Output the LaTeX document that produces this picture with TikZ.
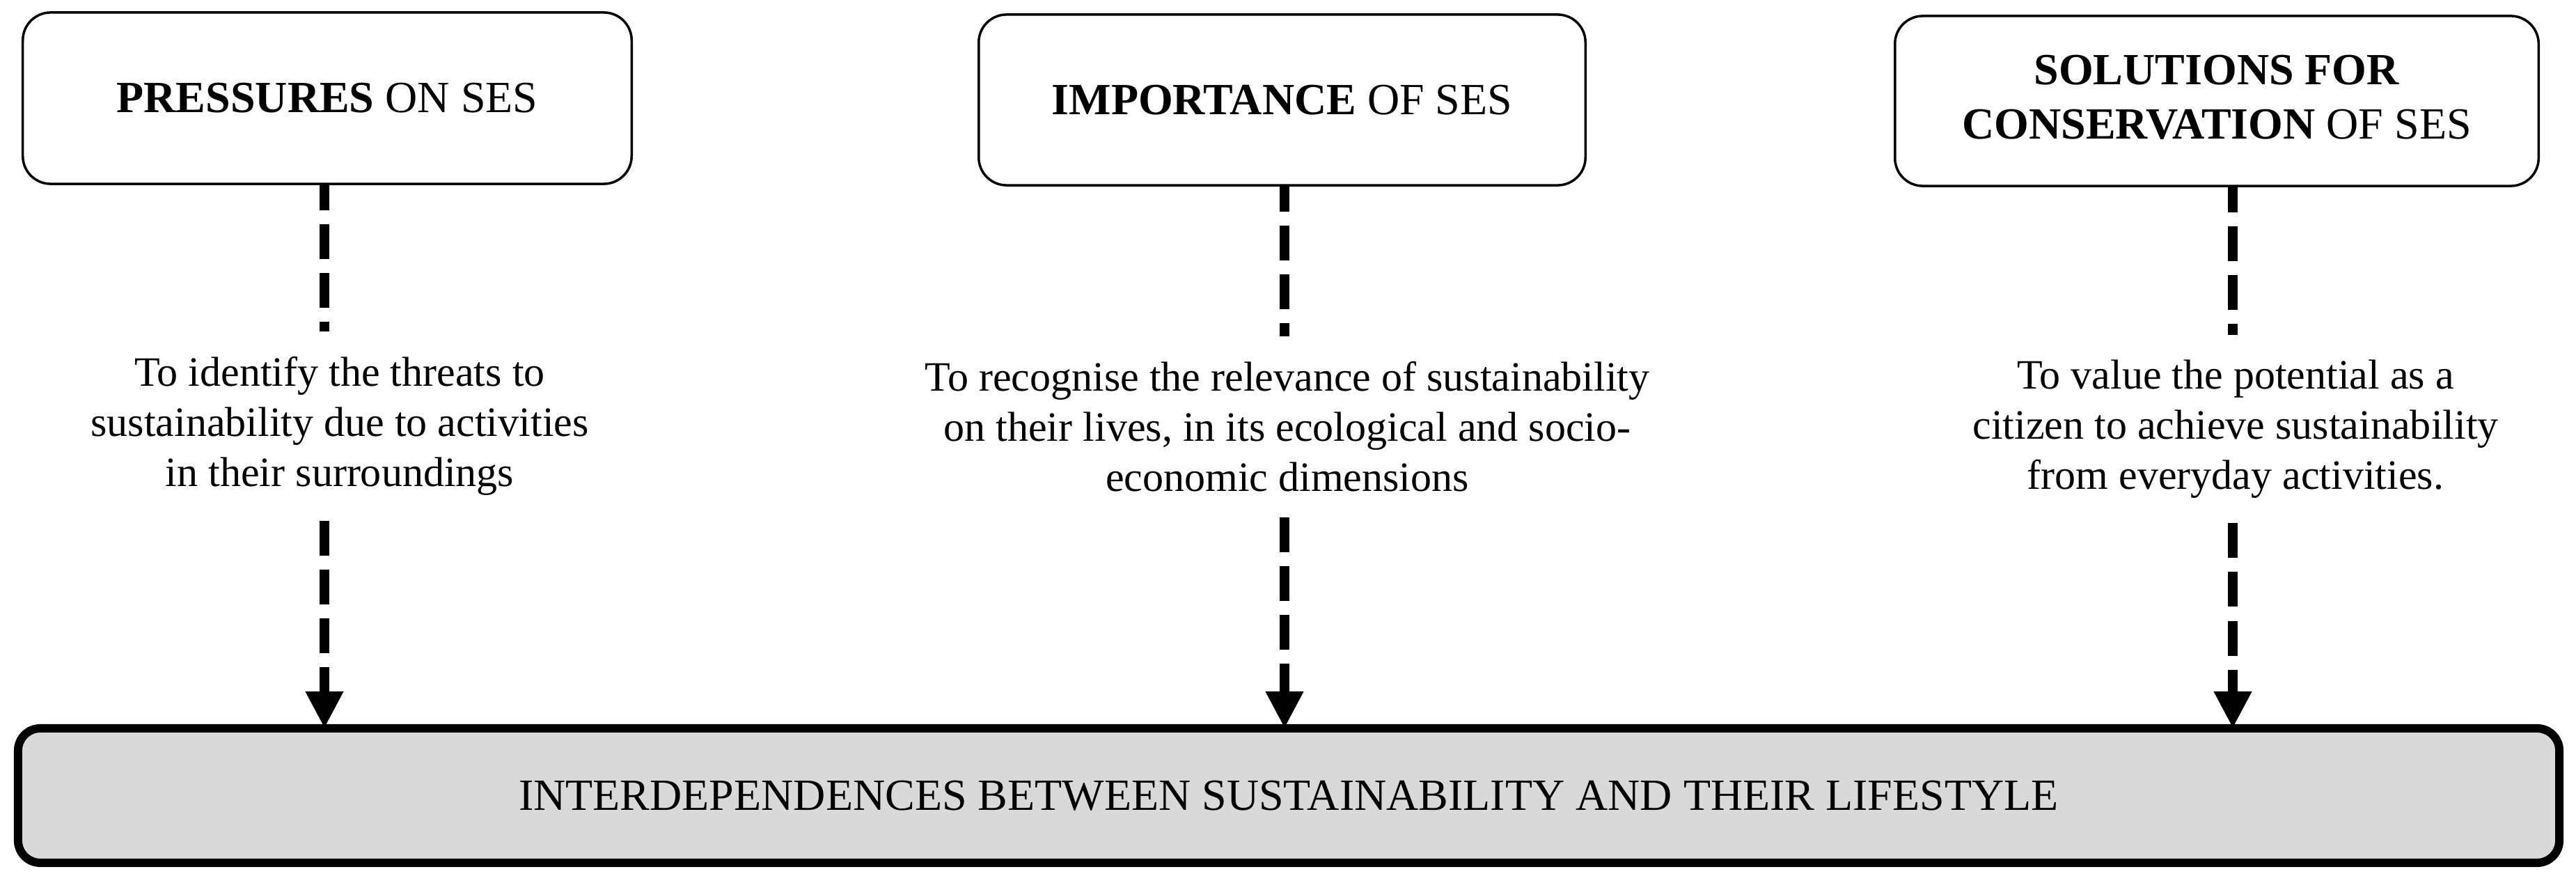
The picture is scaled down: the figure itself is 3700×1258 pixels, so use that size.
\documentclass[tikz,border=0pt]{standalone}
\usepackage{fontspec}
\setmainfont{Liberation Serif}
\usetikzlibrary{arrows.meta}
\begin{document}
\begin{tikzpicture}[x=0.01cm,y=-0.01cm,
  topbox/.style={draw=black,line width=0.035cm,rounded corners=0.4cm,fill=white,
    inner sep=0pt,outer sep=0pt,align=center,font=\fontsize{18.2}{22.3}\selectfont},
  bodytext/.style={align=center,inner xsep=0pt,inner ysep=0.36cm,outer sep=0pt,
    font=\fontsize{17.07}{20.5}\selectfont},
  botbox/.style={draw=black,line width=0.12cm,rounded corners=0.32cm,
    inner sep=0pt,outer sep=0pt,font=\fontsize{18.2}{22.3}\selectfont},
  dashline/.style={line width=0.14cm,dash pattern=on 0.5cm off 0.2cm,dash phase=0.12cm},
  dasharrow/.style={line width=0.14cm,dash pattern=on 0.5cm off 0.2cm,
    -{Triangle[width=0.51cm,length=0.53cm]}}]
\useasboundingbox (0,0) rectangle (3700,1258);
\definecolor{boxgray}{HTML}{D9D9D9}

\node[topbox,minimum width=8.74cm,minimum height=2.46cm] (b1) at (470,141)
  {\raisebox{-0.08cm}{\textbf{PRESSURES} ON SES}};
\node[topbox,minimum width=8.71cm,minimum height=2.45cm] (b2) at (1841.5,143.5)
  {\raisebox{-0.05cm}{\textbf{IMPORTANCE} OF SES}};
\node[topbox,minimum width=9.24cm,minimum height=2.44cm] (b3) at (3184,145)
  {\raisebox{-0.03cm}{\begin{tabular}{@{}c@{}}\textbf{SOLUTIONS FOR}\\\textbf{CONSERVATION} OF SES\end{tabular}}};

\node[botbox,fill=boxgray,minimum width=36.48cm,minimum height=1.93cm] (bot) at (1851,1142.5)
  {INTERDEPENDENCES BETWEEN SUSTAINABILITY AND THEIR LIFESTYLE};

\node[bodytext] (t1) at (488,612)
  {To identify the threats to\\sustainability due to activities\\in their surroundings};
\node[bodytext] (t2) at (1849,613)
  {To recognise the relevance of sustainability\\on their lives, in its ecological and socio-\\economic dimensions};
\node[bodytext] (t3) at (3211,616)
  {To value the potential as a\\citizen to achieve sustainability\\from everyday activities.};

\coordinate (a1) at (466,0);
\coordinate (a2) at (1845,0);
\coordinate (a3) at (3207,0);

\draw[dashline] (a1 |- b1.south) -- (a1 |- t1.north);
\draw[dashline] (a2 |- b2.south) -- (a2 |- t2.north);
\draw[dashline] (a3 |- b3.south) -- (a3 |- t3.north);
\draw[dasharrow] (a1 |- t1.south) -- (a1 |- bot.north);
\draw[dasharrow] (a2 |- t2.south) -- (a2 |- bot.north);
\draw[dasharrow] (a3 |- t3.south) -- (a3 |- bot.north);
\end{tikzpicture}
\end{document}
